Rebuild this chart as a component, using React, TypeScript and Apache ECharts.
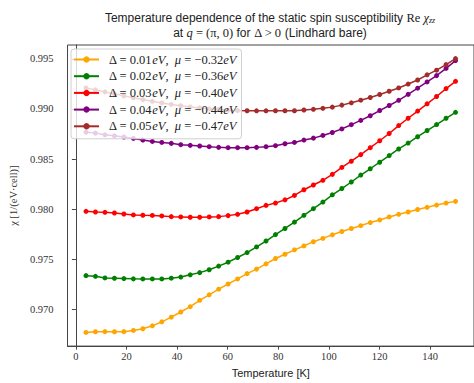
import React, { useEffect, useRef } from "react";
import * as echarts from "echarts";

const temperatures = [4, 7.74, 11.49, 15.23, 18.97, 22.72, 26.46, 30.21, 33.95, 37.69, 41.44, 45.18, 48.92, 52.67, 56.41, 60.15, 63.9, 67.64, 71.38, 75.13, 78.87, 82.62, 86.36, 90.1, 93.85, 97.59, 101.33, 105.08, 108.82, 112.56, 116.31, 120.05, 123.79, 127.54, 131.28, 135.03, 138.77, 142.51, 146.26, 150];

const chi001 = [0.96773, 0.96780, 0.96781, 0.96780, 0.96781, 0.96793, 0.96810, 0.96839, 0.96879, 0.96925, 0.96977, 0.97030, 0.97093, 0.97148, 0.97204, 0.97256, 0.97306, 0.97359, 0.97404, 0.97456, 0.97510, 0.97552, 0.97596, 0.97635, 0.97677, 0.97710, 0.97746, 0.97779, 0.97809, 0.97837, 0.97868, 0.97894, 0.97924, 0.97950, 0.97973, 0.97998, 0.98020, 0.98042, 0.98062, 0.98079];
const chi002 = [0.97339, 0.97332, 0.97316, 0.97313, 0.97310, 0.97307, 0.97306, 0.97306, 0.97306, 0.97314, 0.97325, 0.97347, 0.97369, 0.97398, 0.97434, 0.97473, 0.97520, 0.97569, 0.97625, 0.97684, 0.97748, 0.97809, 0.97872, 0.97940, 0.98006, 0.98072, 0.98144, 0.98207, 0.98272, 0.98341, 0.98404, 0.98469, 0.98535, 0.98601, 0.98660, 0.98723, 0.98785, 0.98844, 0.98907, 0.98966];
const chi003 = [0.97980, 0.97973, 0.97970, 0.97963, 0.97953, 0.97944, 0.97941, 0.97939, 0.97934, 0.97927, 0.97924, 0.97921, 0.97921, 0.97924, 0.97927, 0.97937, 0.97950, 0.97973, 0.98006, 0.98039, 0.98062, 0.98094, 0.98138, 0.98195, 0.98242, 0.98289, 0.98348, 0.98417, 0.98479, 0.98545, 0.98614, 0.98683, 0.98755, 0.98834, 0.98907, 0.98979, 0.99051, 0.99124, 0.99203, 0.99275];
const chi004 = [0.98769, 0.98759, 0.98742, 0.98732, 0.98720, 0.98706, 0.98690, 0.98676, 0.98666, 0.98657, 0.98644, 0.98637, 0.98631, 0.98624, 0.98617, 0.98614, 0.98614, 0.98614, 0.98617, 0.98624, 0.98634, 0.98653, 0.98666, 0.98690, 0.98709, 0.98736, 0.98765, 0.98801, 0.98843, 0.98886, 0.98932, 0.98984, 0.99034, 0.99086, 0.99145, 0.99207, 0.99269, 0.99332, 0.99404, 0.99482];
const chi005 = [0.99209, 0.99190, 0.99170, 0.99150, 0.99130, 0.99111, 0.99093, 0.99076, 0.99060, 0.99045, 0.99032, 0.99020, 0.99010, 0.99001, 0.98994, 0.98988, 0.98984, 0.98982, 0.98981, 0.98981, 0.98982, 0.98982, 0.98982, 0.98989, 0.98996, 0.99006, 0.99018, 0.99038, 0.99061, 0.99087, 0.99114, 0.99144, 0.99176, 0.99209, 0.99248, 0.99288, 0.99340, 0.99386, 0.99442, 0.99501];

const seriesNames = ["d001", "d002", "d003", "d004", "d005"];
const deltas = ["0.01", "0.02", "0.03", "0.04", "0.05"];
const mus = ["0.32", "0.36", "0.40", "0.44", "0.47"];
const colors = ["#FFA500", "#008000", "#FF0000", "#800080", "#A52A2A"];
const allValues = [chi001, chi002, chi003, chi004, chi005];

const xTicks = [0, 20, 40, 60, 80, 100, 120, 140];
const yTicks = [0.97, 0.975, 0.98, 0.985, 0.99, 0.995];

const SERIF = "'Liberation Serif', 'DejaVu Serif', serif";
const SANS = "'Liberation Sans', 'DejaVu Sans', sans-serif";

export default function App() {
  const ref = useRef<HTMLDivElement>(null);
  useEffect(() => {
    document.body.style.margin = "0";
    if (!ref.current) return;
    const chart = echarts.init(ref.current, null, { renderer: "svg" });
    const legendMap: Record<string, string> = {};
    seriesNames.forEach((n, i) => {
      legendMap[n] = `{n|Δ = ${deltas[i]}}{i|eV}{n|,  }{i|μ}{n| = −${mus[i]}}{i|eV}`;
    });
    chart.setOption({
      animation: false,
      backgroundColor: "#fff",
      grid: {
        left: 66,
        right: 0,
        top: 45,
        bottom: 33,
        show: true,
        borderColor: "#444",
        borderWidth: 1,
        backgroundColor: "transparent",
      },
      graphic: [
        {
          type: "text",
          x: 270,
          y: 10,
          style: {
            text: "{s|Temperature dependence of the static spin susceptibility }{m|Re }{mi|χ}{sub|zz}\n{s|at }{mi|q}{m| = (π, 0)}{s| for }{m|Δ > 0}{s| (Lindhard bare)}",
            align: "center",
            fill: "#222",
            rich: {
              s: { fontFamily: SANS, fontSize: 12, fill: "#222", lineHeight: 15 },
              m: { fontFamily: SERIF, fontSize: 12.5, fill: "#222", lineHeight: 15 },
              mi: { fontFamily: SERIF, fontSize: 12.5, fontStyle: "italic", fill: "#222", lineHeight: 15 },
              sub: { fontFamily: SERIF, fontSize: 8, fontStyle: "italic", fill: "#222", lineHeight: 15, padding: [6, 0, 0, 0] },
            },
          },
        },
      ],
      legend: {
        data: seriesNames,
        orient: "vertical",
        left: 71,
        top: 49,
        z: 20,
        itemWidth: 25,
        itemHeight: 8,
        itemGap: 3.7,
        padding: [4, 5, 6, 2],
        backgroundColor: "rgba(255,255,255,0.8)",
        borderColor: "#d0d0d0",
        borderWidth: 1,
        borderRadius: 3,
        formatter: (name: string) => legendMap[name],
        textStyle: {
          padding: [0, 0, 0, 5],
          lineHeight: 12,
          rich: {
            n: { fontFamily: SERIF, fontSize: 12.5, color: "#222", lineHeight: 12 },
            i: { fontFamily: SERIF, fontSize: 12.5, fontStyle: "italic", color: "#222", lineHeight: 12 },
          },
        },
      },
      xAxis: {
        type: "value",
        min: -3.3,
        max: 157.3,
        name: "Temperature [K]",
        nameLocation: "middle",
        nameGap: 19,
        nameTextStyle: { fontFamily: SANS, fontSize: 11, color: "#222" },
        axisLine: { show: true, lineStyle: { color: "#444", width: 1 } },
        axisTick: { show: true, length: 3.5, customValues: xTicks, lineStyle: { color: "#444" } },
        axisLabel: {
          customValues: xTicks,
          margin: 5,
          fontFamily: SERIF,
          fontSize: 10.5,
          color: "#333",
        },
        splitLine: { show: false },
      },
      yAxis: {
        type: "value",
        min: 0.96637,
        max: 0.99637,
        name: "χ [1/(eV·cell)]",
        nameLocation: "middle",
        nameGap: 41,
        nameTextStyle: { fontFamily: SERIF, fontSize: 10.5, color: "#333" },
        axisLine: { show: true, lineStyle: { color: "#444", width: 1 } },
        axisTick: { show: true, length: 4, customValues: yTicks, lineStyle: { color: "#444" } },
        axisLabel: {
          customValues: yTicks,
          margin: 14,
          fontFamily: SERIF,
          fontSize: 10.5,
          color: "#333",
          formatter: (v: number) => v.toFixed(3),
        },
        splitLine: { show: false },
      },
      series: allValues.map((vals, i) => ({
        name: seriesNames[i],
        type: "line",
        data: temperatures.map((t, j) => [t, vals[j]]),
        symbol: "circle",
        symbolSize: 5,
        showSymbol: true,
        itemStyle: { color: colors[i] },
        lineStyle: { color: colors[i], width: 1.5 },
        z: 2 + i,
      })),
    });
    return () => chart.dispose();
  }, []);
  return <div ref={ref} style={{ width: 474, height: 383 }} />;
}
